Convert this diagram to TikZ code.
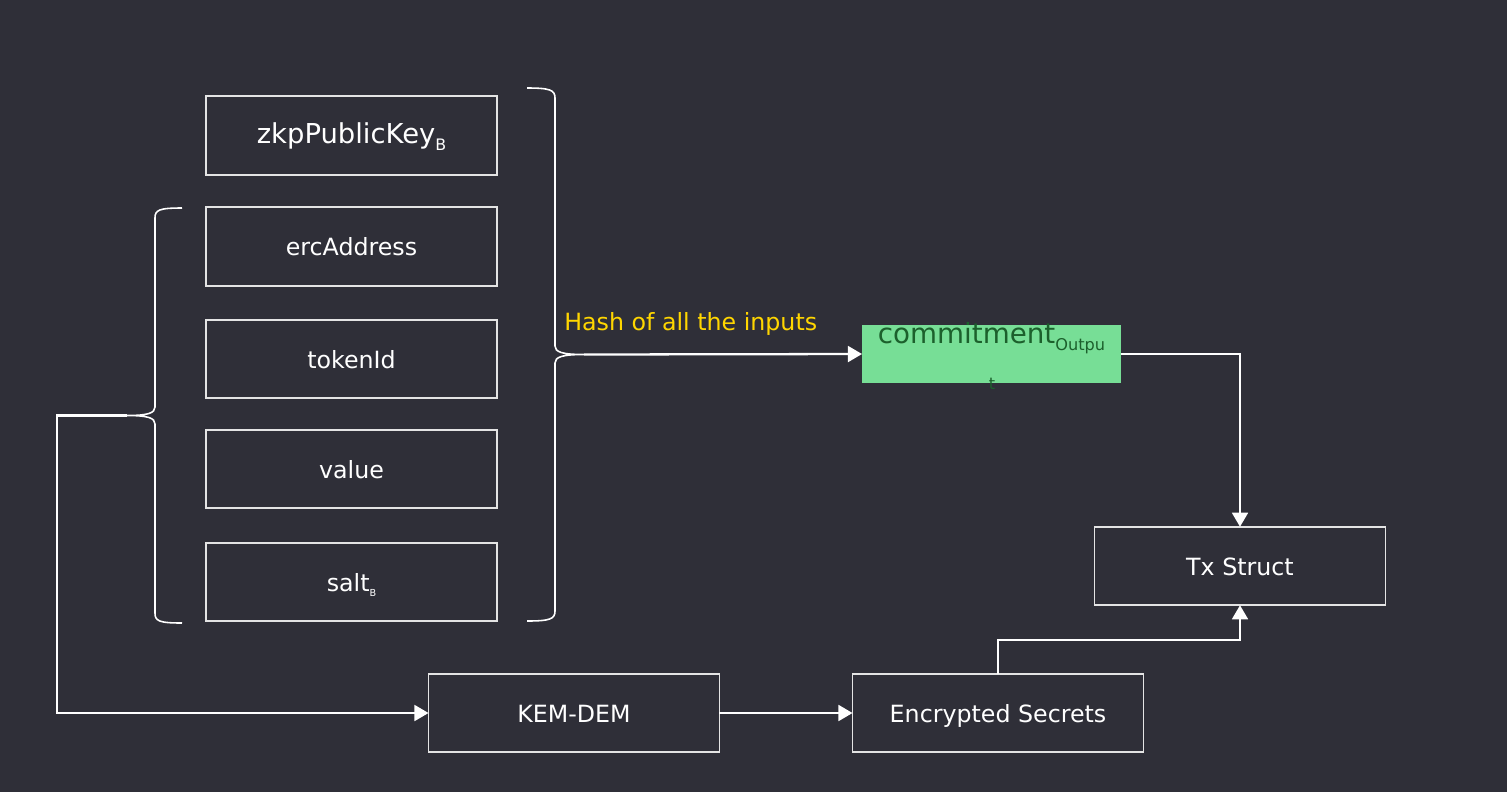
\documentclass[tikz,border=0pt]{standalone}
\usepackage{fontspec}
\setmainfont{DejaVu Sans}
\usetikzlibrary{arrows.meta}
\definecolor{bgdark}{RGB}{47,47,56}
\definecolor{boxline}{RGB}{228,228,228}
\definecolor{commitfill}{RGB}{119,222,150}
\definecolor{committext}{RGB}{28,96,44}
\definecolor{hashyellow}{RGB}{255,214,0}
\newcommand{\subtag}[3]{\raisebox{-#1}{\fontsize{#2}{#2}\selectfont #3}}

\begin{document}
\begin{tikzpicture}[x=0.02cm, y=-0.02cm,
    inbox/.style={draw=boxline, line width=0.9pt, text=white, minimum width=5.82cm,
      minimum height=1.57cm, inner sep=0pt, outer sep=0pt,
      font=\fontsize{13.5}{16}\selectfont, text height=10.4pt, text depth=0pt},
    flow/.style={draw=white, line width=1.3pt, -{Triangle[length=8pt, width=9pt]}},
    bracket/.style={draw=white, line width=0.9pt}]
  \useasboundingbox[fill=bgdark] (0,0) rectangle (1507,792);
  % secret inputs of the note
  \node[inbox, font=\fontsize{15.6}{18}\selectfont, text height=8.8pt] (zkp) at (351.5,135.5) {zkpPublicKey\subtag{4.4pt}{9pt}{B}};
  \foreach \y/\nm/\txt in {246.5/erc/ercAddress, 359/token/tokenId, 469/val/value,
      582/salt/{salt\subtag{2.8pt}{5.5pt}{B}}}
    \node[inbox] (\nm) at (351.5,\y) {\txt};
  \coordinate (hashtip) at (584,354.5);
  \coordinate (keytip) at (127,415.5);
  \draw[bracket] (527,88) .. controls (550,88) and (555,90) .. (555,98) -- (555,346)
    .. controls (555,352) and (562,354.5) .. (hashtip)
    .. controls (562,354.5) and (555,357) .. (555,363) -- (555,611)
    .. controls (555,619) and (550,621) .. (527,621);
  \draw[bracket] (182,208) .. controls (159,208) and (155,210) .. (155,218) -- (155,407)
    .. controls (155,413) and (148,415.5) .. (keytip)
    .. controls (148,415.5) and (155,418) .. (155,424) -- (155,613)
    .. controls (155,621) and (159,623) .. (182,623);
  % commitment
  \node[fill=commitfill, minimum width=5.18cm, minimum height=1.16cm, inner sep=0pt, outer sep=0pt] (commit) at (991.5,354) {};
  \node[anchor=base, inner sep=0pt, text=committext, font=\fontsize{15.8}{18}\selectfont] (committxt) at (991.5,343) {commitment\subtag{4.5pt}{9.2pt}{Outpu}};
  \node[anchor=base, inner sep=0pt, text=committext, font=\fontsize{9.2}{10}\selectfont] (commitwrap) at (992,389) {t};
  \node[anchor=base west, inner sep=0pt, text=hashyellow, font=\fontsize{13.5}{16}\selectfont] (hashlbl) at (564,330) {Hash of all the inputs};
  % outputs
  \node[inbox] (tx) at (1240,566) {Tx Struct};
  \node[inbox] (kem) at (574,713) {KEM-DEM};
  \node[inbox] (enc) at (998,713) {Encrypted Secrets};
  \draw[flow] (hashtip) -- (commit.west);
  \draw[flow] (commit.east) -| (tx.north);
  \draw[flow] (keytip) -- ++(-70,0) |- (kem.west);
  \draw[flow] (kem) -- (enc);
  \draw[flow] (enc.north) -- ++(0,-34) -| (tx.south);
\end{tikzpicture}
\end{document}
